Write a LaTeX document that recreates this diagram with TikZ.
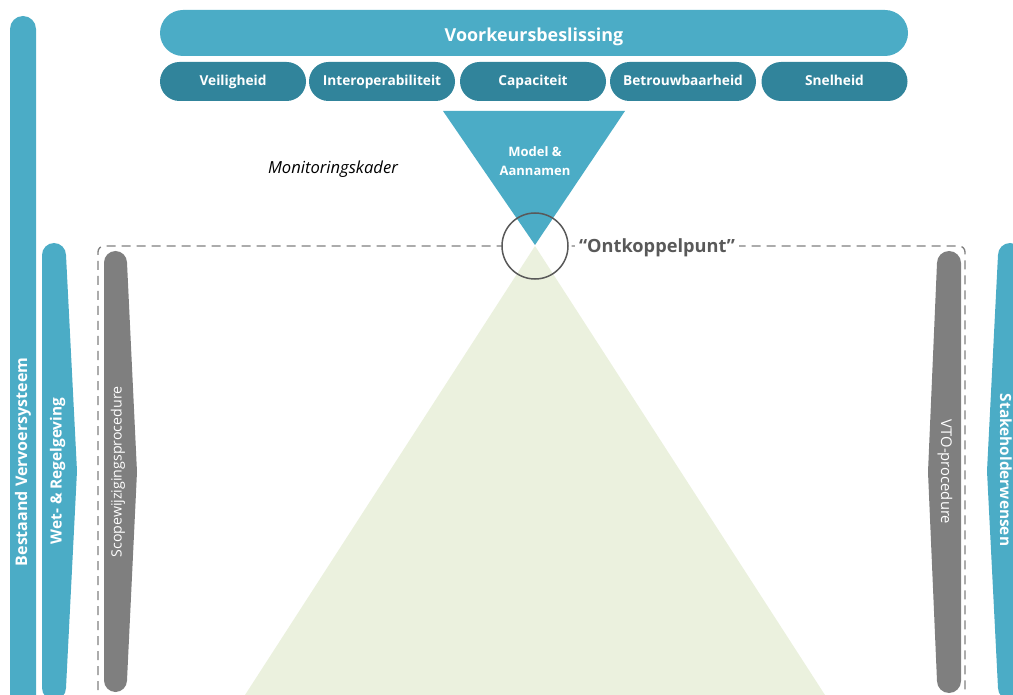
\documentclass[tikz,border=0pt]{standalone}
\usepackage{fontspec}
\setmainfont{Open Sans}
\definecolor{tealL}{HTML}{4BACC6}
\definecolor{tealD}{HTML}{31849B}
\definecolor{bandgrey}{HTML}{7F7F7F}
\definecolor{conegreen}{HTML}{EBF1DE}
\definecolor{inkgrey}{HTML}{595959}
\newcommand\fs[2]{\fontsize{#1}{#2}\selectfont}
\begin{document}
\begin{tikzpicture}[x=1pt,y=-1pt,
  headbar/.style={rectangle, rounded corners=23pt, fill=tealL, text=white,
    font=\bfseries\fs{17.9}{21}, minimum width=748pt, minimum height=46pt, inner sep=0pt,
    text height=17pt, text depth=0pt},
  pill/.style={rectangle, rounded corners=19.5pt, fill=tealD, text=white,
    font=\bfseries\fs{13.7}{16}, minimum width=146pt, minimum height=39pt, inner sep=0pt,
    text height=8pt, text depth=0pt},
  bandtext/.style={text=white, inner sep=0pt},
]
\useasboundingbox (0,0) rectangle (1013,695);
\clip (0,0) rectangle (1013,695);

% decision header and criteria
\node[headbar] (head) at (534,33) {Voorkeursbeslissing};
\node[pill] (c1) at (233,81.5) {Veiligheid};
\node[pill] (c2) at (382,81.5) {Interoperabiliteit};
\node[pill] (c3) at (533,81.5) {Capaciteit};
\node[pill] (c4) at (683,81.5) {Betrouwbaarheid};
\node[pill] (c5) at (834.5,81.5) {Snelheid};

% dashed frame around the procedures
\draw[bandgrey, line width=1.3pt, dash pattern=on 9pt off 6pt, rounded corners=6pt]
  (98,705) -- (98,246) -- (965,246) -- (965,705);

% clear area behind the decoupling circle
\fill[white] (535,246) circle[radius=33];

% funnels
\fill[conegreen] (535,246) -- (825,695) -- (245,695) -- cycle;
\fill[tealL] (443,111) -- (625,111) -- (535,245) -- cycle;
\node[circle, draw=inkgrey, line width=1.5pt, minimum size=66pt, inner sep=0pt] (decouple) at (535,246) {};

\node[text=white, font=\bfseries\fs{13}{19}, align=center, inner sep=0pt] (model) at (535,161)
  {Model \&\\Aannamen};
\node[font=\itshape\fs{16.6}{19}, inner sep=0pt, text height=12pt, text depth=0pt] (monitor) at (333,167.5) {Monitoringskader};
\node[fill=white, text=inkgrey, font=\bfseries\fs{18.2}{22}, inner sep=4pt, text height=14pt, text depth=0pt] (opunt) at (657,246)
  {“Ontkoppelpunt”};

% side bands
\fill[tealL] (10,29) arc[start angle=180, end angle=360, radius=13] -- (36,705) -- (10,705) -- cycle;
\fill[tealL] (42,255) arc[start angle=180, end angle=360, radius=12]
  -- (77,471) -- (66,688) arc[start angle=0, end angle=180, radius=12] -- cycle;
\fill[bandgrey] (104,262.5) arc[start angle=180, end angle=360, radius=11.5]
  -- (137,472) -- (127,680.5) arc[start angle=0, end angle=180, radius=11.5] -- cycle;
\fill[bandgrey] (937,263) arc[start angle=180, end angle=360, radius=12]
  -- (961,681) arc[start angle=0, end angle=180, radius=12] -- (928,472) -- cycle;
\fill[tealL] (998,255) arc[start angle=180, end angle=360, radius=12]
  -- (1022,688) arc[start angle=0, end angle=180, radius=12] -- (987,471) -- cycle;

\node[bandtext, rotate=90, font=\bfseries\fs{16}{19}] (bestaand) at (23,462) {Bestaand Vervoersysteem};
\node[bandtext, rotate=90, font=\bfseries\fs{15.4}{18}] (wet) at (57.5,471) {Wet- \& Regelgeving};
\node[bandtext, rotate=90, font=\fs{14.2}{17}] (scope) at (118,472) {Scopewijzigingsprocedure};
\node[bandtext, rotate=-90, font=\fs{14.8}{17}] (vto) at (945,472) {VTO-procedure};
\node[bandtext, rotate=-90, font=\bfseries\fs{15.4}{18}] (stake) at (1006,470) {Stakeholderwensen};
\end{tikzpicture}
\end{document}
